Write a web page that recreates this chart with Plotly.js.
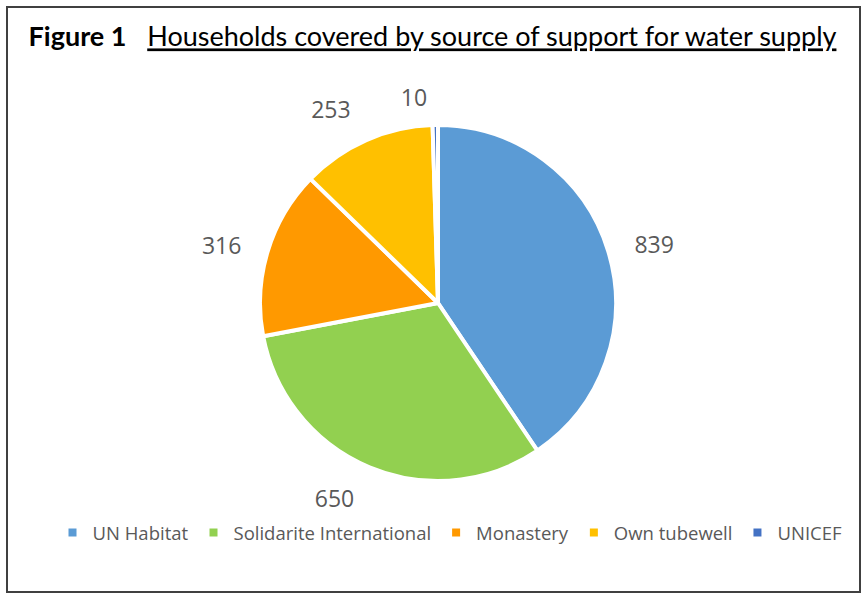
<!DOCTYPE html>
<html>
<head>
<meta charset="utf-8">
<script src="https://cdn.plot.ly/plotly-3.0.1.min.js"></script>
<style>html,body{margin:0;padding:0;background:#fff;}#chart{width:865px;height:597px;}</style>
</head>
<body>
<div id="chart"></div>
<script>
const categories = ["UN Habitat", "Solidarite International", "Monastery", "Own tubewell", "UNICEF"];
const households = [839, 650, 316, 253, 10];
const sliceColors = ["#5B9BD5", "#92D050", "#FF9900", "#FFC000", "#4472C4"];

const pieTrace = {
  type: "pie",
  labels: categories,
  values: households,
  sort: false,
  direction: "clockwise",
  rotation: 0,
  textinfo: "none",
  marker: {colors: sliceColors, line: {color: "#ffffff", width: 4}},
  domain: {x: [0.3006, 0.7121], y: [0.1943, 0.7906]},
  hoverinfo: "label+value",
  showlegend: true
};

// transparent, slightly larger rings used only to place the value labels further out
function labelRing(showIdx, dom) {
  return {
    type: "pie",
    labels: categories,
    values: households,
    sort: false,
    direction: "clockwise",
    rotation: 0,
    textinfo: "value",
    textposition: categories.map((c, i) => showIdx.includes(i) ? "outside" : "none"),
    outsidetextfont: {family: "Open Sans, sans-serif", size: 23, color: "#595959"},
    marker: {colors: categories.map(() => "rgba(0,0,0,0)"), line: {width: 0}},
    domain: dom,
    hoverinfo: "skip",
    showlegend: false
  };
}

const layout = {
  width: 865, height: 597,
  margin: {l: 0, r: 0, t: 0, b: 0},
  paper_bgcolor: "#ffffff",
  title: {
    text: "<b>Figure 1</b>   <u>Households covered by source of support for water supply</u>",
    font: {family: "Lato, sans-serif", size: 27, color: "#000000"},
    x: 0.5, xanchor: "center", y: 1 - 37/597, yanchor: "middle"
  },
  showlegend: true,
  legend: {
    orientation: "h",
    x: 450/865, xanchor: "center",
    y: 1 - 533/597, yanchor: "middle",
    font: {family: "Open Sans, sans-serif", size: 18.5, color: "#595959"},
    itemwidth: 30,
    traceorder: "normal"
  },
  shapes: [{
    type: "rect", xref: "paper", yref: "paper",
    x0: 7/865, x1: 860/865, y0: 1 - 592/597, y1: 1 - 7/597,
    line: {color: "#404040", width: 2}, fillcolor: "rgba(0,0,0,0)"
  }]
};

Plotly.newPlot("chart", [
  pieTrace,
  labelRing([0, 1, 2, 3], {x: [0.2786, 0.7341], y: [0.1625, 0.8224]}),
  labelRing([4], {x: [0.2867, 0.7260], y: [0.1742, 0.8107]})
], layout, {displayModeBar: false});
</script>
</body>
</html>
